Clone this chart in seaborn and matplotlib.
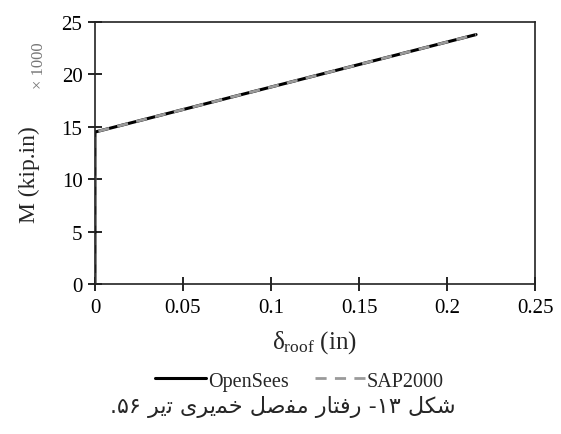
import matplotlib
matplotlib.use('Agg')
import matplotlib.pyplot as plt
import seaborn as sns
import pandas as pd

# data (moment in kip.in x 1000, roof drift in inches)
drift = [0.0, 0.0, 0.2165]
moment_opensees = [0.0, 14.5, 23.8]
moment_sap = [0.0, 14.5, 23.8]
x_ticks = [0, 0.05, 0.1, 0.15, 0.2, 0.25]
y_ticks = [0, 5, 10, 15, 20, 25]

df_os = pd.DataFrame({'drift': drift, 'moment': moment_opensees})
df_sap = pd.DataFrame({'drift': drift, 'moment': moment_sap})

sns.set_theme(style='white')
plt.rcParams['font.family'] = ['Liberation Serif', 'DejaVu Sans']
plt.rcParams['mathtext.fontset'] = 'custom'
plt.rcParams['mathtext.rm'] = 'Liberation Serif'
plt.rcParams['mathtext.it'] = 'Liberation Serif:italic'

fig = plt.figure(figsize=(5.61, 4.35), dpi=100)
ax = fig.add_axes([0.1693, 0.3448, 0.7844, 0.6023])

sns.lineplot(data=df_os, x='drift', y='moment', sort=False, estimator=None,
             color='black', linewidth=2.2, ax=ax, label='OpenSees')
sns.lineplot(data=df_sap, x='drift', y='moment', sort=False, estimator=None,
             color='#9a9a9a', linewidth=2.0, linestyle=(0, (4, 3)), ax=ax, label='SAP2000')

ax.set_xlim(0, 0.25)
ax.set_ylim(0, 25)
ax.set_xticks(x_ticks)
ax.set_xticklabels(['0', '0.05', '0.1', '0.15', '0.2', '0.25'])
ax.set_yticks(y_ticks)
ax.tick_params(axis='both', which='major', direction='inout', length=10, width=1.2,
               labelsize=15, colors='black', pad=4)
ax.tick_params(axis='x', pad=5)
ax.tick_params(top=False, right=False, bottom=True, left=True)
for s in ax.spines.values():
    s.set_color('#222222')
    s.set_linewidth(1.2)

ax.set_xlabel(r'δ$_{\mathrm{roof}}$ (in)', fontsize=18, labelpad=8)
ax.set_ylabel('M (kip.in)', fontsize=17)
ax.yaxis.set_label_coords(-0.125, 0.422)
fig.text(0.07, 0.85, '× 1000', rotation=90, fontsize=12, color='#777777',
         ha='center', va='center')

leg = ax.legend(loc='center', bbox_to_anchor=(0.465, -0.37), ncol=2, frameon=False,
                fontsize=14.5, handlelength=2.5, handletextpad=0.1, columnspacing=1.3)

# caption (Persian, pre-shaped glyphs in visual order)
w_shekl = '\uFEDE\uFB91\uFEB7'
w_raftar = '\uFEAD\uFE8E\uFE98\uFED3\uFEAD'
w_mafsal = '\uFEDE\uFEBB\uFED4\uFEE3'
w_khamiri = '\uFBFC\uFEAE\uFBFE\uFEE4\uFEA7'
w_tir = '\uFEAE\uFBFE\uFE97'
caption = ('.\u06F5\u06F6 ' + w_tir + ' ' + w_khamiri + ' ' + w_mafsal + ' '
           + w_raftar + ' -\u06F1\u06F3 ' + w_shekl)
fig.text(0.505, 0.065, caption, fontsize=16, family=['DejaVu Sans'],
         ha='center', va='center')

fig.savefig('out.png', dpi=100)
